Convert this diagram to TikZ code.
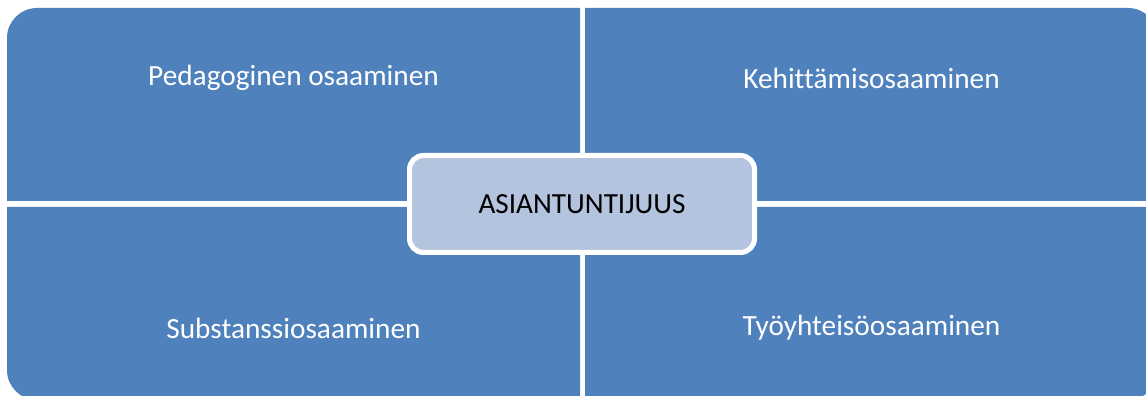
\documentclass[tikz,border=0pt]{standalone}
\usepackage{fontspec}
\setmainfont{Carlito}[Ligatures=NoCommon]
\usepackage{tikz}
\usetikzlibrary{positioning}
\definecolor{quadblue}{RGB}{79,129,189}
\definecolor{coreblue}{RGB}{180,195,222}

\begin{document}
\begin{tikzpicture}[x=1pt, y=1pt,
    quad/.style={fill=quadblue},
    lbl/.style={text=white, font=\fontsize{29.3}{35}\selectfont},
    core/.style={draw=white, line width=5pt, rounded corners=14pt, fill=coreblue,
        minimum width=345pt, minimum height=97pt, font=\fontsize{29.2}{35}\selectfont}]
    \useasboundingbox (0,0) rectangle (1146,396);
    \clip (0,0) rectangle (1146,396);
    % quadrants
    \fill[quad] (7,195) -- (7,358) arc[start angle=180, end angle=90, radius=30pt] -- (580,388) -- (580,195) -- cycle;
    \fill[quad] (585,195) -- (585,388) -- (1128,388) arc[start angle=90, end angle=0, radius=30pt] -- (1158,195) -- cycle;
    \fill[quad] (7,189) -- (580,189) -- (580,-4) -- (37,-4) arc[start angle=270, end angle=180, radius=30pt] -- cycle;
    \fill[quad] (585,189) -- (1158,189) -- (1158,26) arc[start angle=0, end angle=-90, radius=30pt] -- (585,-4) -- cycle;
    % labels
    \node[lbl] (ped) at (293.5,318) {Pedagoginen osaaminen};
    \node[lbl] (keh) at (871.5,318) {Kehittämisosaaminen};
    \node[lbl] (sub) at (293.5,68) {Substanssiosaaminen};
    \node[lbl] (tyo) at (871.5,68) {Työyhteisöosaaminen};
    % centre
    \node[core] (asi) at (582,192) {ASIANTUNTIJUUS};
\end{tikzpicture}
\end{document}
